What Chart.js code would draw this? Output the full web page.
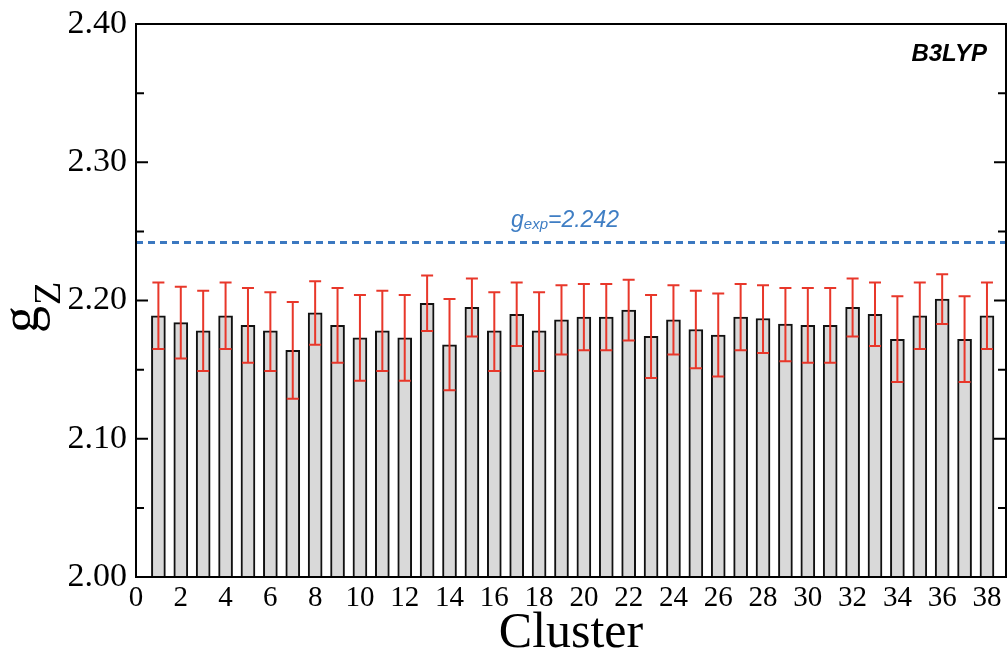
<!DOCTYPE html>
<html>
<head>
<meta charset="utf-8">
<script src="https://cdn.jsdelivr.net/npm/chart.js@4.4.1/dist/chart.umd.min.js"></script>
<style>
  html, body { margin: 0; padding: 0; background: #ffffff; }
  #wrap { width: 1008px; height: 655px; position: relative; }
</style>
</head>
<body>
<div id="wrap"><canvas id="c" width="1008" height="655"></canvas></div>
<script>
// ---- data ----
const clusters = [1,2,3,4,5,6,7,8,9,10,11,12,13,14,15,16,17,18,19,20,21,22,23,24,25,26,27,28,29,30,31,32,33,34,35,36,37,38];
const gz = [2.189,2.184,2.178,2.189,2.182,2.178,2.164,2.191,2.182,2.173,2.178,2.173,2.198,2.168,2.195,2.178,2.190,2.178,2.186,2.188,2.188,2.193,2.174,2.186,2.179,2.175,2.188,2.187,2.183,2.182,2.182,2.195,2.190,2.172,2.189,2.201,2.172,2.189];
const errHigh = [2.213,2.210,2.207,2.213,2.209,2.206,2.199,2.214,2.209,2.204,2.207,2.204,2.218,2.201,2.216,2.206,2.213,2.206,2.211,2.212,2.212,2.215,2.204,2.211,2.207,2.205,2.212,2.211,2.209,2.209,2.209,2.216,2.213,2.203,2.213,2.219,2.203,2.213];
const errLow = [2.165,2.158,2.149,2.165,2.155,2.149,2.129,2.168,2.155,2.142,2.149,2.142,2.178,2.135,2.174,2.149,2.167,2.149,2.161,2.164,2.164,2.171,2.144,2.161,2.151,2.145,2.164,2.162,2.156,2.155,2.155,2.174,2.167,2.141,2.165,2.183,2.141,2.165];
const gExp = 2.242;
const xRange = [0, 38.85];
const yRange = [2.00, 2.40];
const yMajorTicks = [2.00, 2.10, 2.20, 2.30, 2.40];
const yMinorTicks = [2.05, 2.15, 2.25, 2.35];
const xTickStep = 2;
const methodLabel = 'B3LYP';

const barData = clusters.map((c, i) => ({ x: c, y: gz[i] }));
const expData = [{ x: xRange[0], y: gExp }, { x: xRange[1], y: gExp }];

const SERIF = "'Liberation Serif', 'DejaVu Serif', serif";
const SANS = "'Liberation Sans', Arial, sans-serif";

const decor = {
  id: 'decor',
  afterDatasetsDraw(chart) {
    const ctx = chart.ctx;
    const xs = chart.scales.x, ys = chart.scales.y;
    const a = chart.chartArea;
    ctx.save();
    // error bars
    ctx.strokeStyle = '#e8372a';
    ctx.lineWidth = 2;
    const cap = 6;
    clusters.forEach((c, i) => {
      const px = xs.getPixelForValue(c);
      const yh = ys.getPixelForValue(errHigh[i]);
      const yl = ys.getPixelForValue(errLow[i]);
      ctx.beginPath();
      ctx.moveTo(px, yh); ctx.lineTo(px, yl);
      ctx.moveTo(px - cap, yh); ctx.lineTo(px + cap, yh);
      ctx.moveTo(px - cap, yl); ctx.lineTo(px + cap, yl);
      ctx.stroke();
    });
    // frame
    ctx.strokeStyle = '#000';
    ctx.lineWidth = 2;
    ctx.strokeRect(a.left, a.top, a.right - a.left, a.bottom - a.top);
    // y ticks (inward, both sides)
    ctx.lineWidth = 2;
    ctx.beginPath();
    yMajorTicks.forEach(v => {
      const py = ys.getPixelForValue(v);
      ctx.moveTo(a.left, py); ctx.lineTo(a.left + 12, py);
      ctx.moveTo(a.right, py); ctx.lineTo(a.right - 12, py);
    });
    yMinorTicks.forEach(v => {
      const py = ys.getPixelForValue(v);
      ctx.moveTo(a.left, py); ctx.lineTo(a.left + 8, py);
      ctx.moveTo(a.right, py); ctx.lineTo(a.right - 8, py);
    });
    ctx.stroke();

    // exp label
    const ly = ys.getPixelForValue(gExp) - 15;
    ctx.fillStyle = '#3f7ec4';
    ctx.textBaseline = 'alphabetic';
    ctx.textAlign = 'left';
    let x0 = 511;
    ctx.font = "italic 23px " + SANS;
    ctx.fillText('g', x0, ly);
    x0 += ctx.measureText('g').width;
    ctx.font = "italic 15px " + SANS;
    ctx.fillText('exp', x0, ly + 2);
    x0 += ctx.measureText('exp').width;
    ctx.font = "italic 23px " + SANS;
    ctx.fillText('=2.242', x0, ly);

    // method label
    ctx.fillStyle = '#000';
    ctx.font = "bold italic 24px " + SANS;
    ctx.textAlign = 'right';
    ctx.fillText(methodLabel, 987, 61);

    // x title
    ctx.font = "50px " + SERIF;
    ctx.textAlign = 'center';
    ctx.fillText('Cluster', (a.left + a.right) / 2, 647);

    // y title g_Z rotated
    ctx.save();
    ctx.translate(38, 333);
    ctx.rotate(-Math.PI / 2);
    ctx.textAlign = 'left';
    ctx.font = "54px " + SERIF;
    ctx.fillText('g', 0, 0);
    const gw = ctx.measureText('g').width;
    ctx.font = "38px " + SERIF;
    ctx.fillText('Z', gw + 1, 22);
    ctx.restore();

    ctx.restore();
  }
};

new Chart(document.getElementById('c'), {
  type: 'bar',
  data: {
    datasets: [
      {
        type: 'line',
        data: expData,
        borderColor: '#3b78c0',
        borderWidth: 3,
        borderDash: [7, 5],
        pointRadius: 0,
        fill: false,
        order: 0
      },
      {
        type: 'bar',
        data: barData,
        backgroundColor: '#d9d9d9',
        borderColor: '#111111',
        borderWidth: 2,
        borderSkipped: false,
        barThickness: 14,
        order: 1
      }
    ]
  },
  options: {
    responsive: false,
    animation: false,
    devicePixelRatio: 1,
    layout: { padding: { left: 0, top: 24, right: 2, bottom: 0 } },
    plugins: { legend: { display: false }, tooltip: { enabled: false }, title: { display: false } },
    scales: {
      x: {
        type: 'linear',
        min: xRange[0],
        max: xRange[1],
        offset: false,
        grid: { display: false, drawTicks: false },
        border: { display: false },
        ticks: {
          stepSize: xTickStep,
          includeBounds: false,
          autoSkip: false,
          maxRotation: 0,
          padding: 4,
          color: '#000',
          font: { family: SERIF, size: 29 },
          callback: v => String(v)
        },
        afterFit: s => { s.height = 78; s.paddingLeft = 0; s.paddingRight = 0; }
      },
      y: {
        type: 'linear',
        min: yRange[0],
        max: yRange[1],
        grid: { display: false, drawTicks: false },
        border: { display: false },
        ticks: {
          stepSize: 0.1,
          padding: 9,
          color: '#000',
          font: { family: SERIF, size: 34 },
          callback: v => Number(v).toFixed(2)
        },
        afterFit: s => { s.width = 136; s.paddingTop = 0; s.paddingBottom = 0; }
      }
    }
  },
  plugins: [decor]
});
</script>
</body>
</html>
